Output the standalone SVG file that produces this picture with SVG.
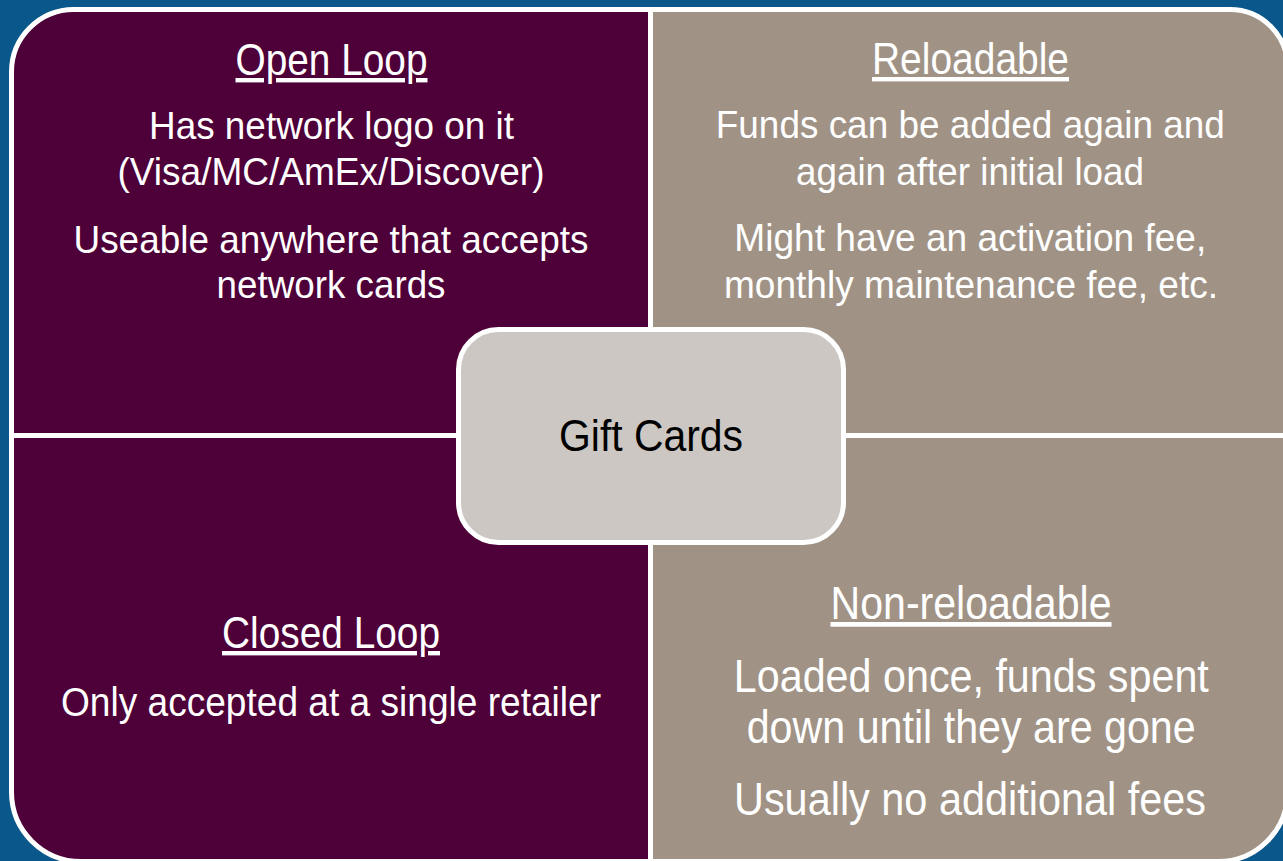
<svg xmlns="http://www.w3.org/2000/svg" width="1283" height="861" viewBox="0 0 1283 861">
  <style>
    .quad { stroke: #ffffff; stroke-width: 5; }
    .purple { fill: #4e0038; }
    .taupe { fill: #a09386; }
    text { font-family: "Liberation Sans Narrow", "Liberation Sans", Arial, sans-serif; text-anchor: middle; fill: #ffffff; }
    .title { font-size: 44px; text-decoration: underline; }
    .body { font-size: 39px; }
    .center-label { font-size: 45px; fill: #000000; }
  </style>
  <rect x="0" y="0" width="1283" height="861" fill="#0a578b"/>

  <g id="open-loop">
    <path class="quad purple" d="M 11.5 435.5 V 72 A 62.5 62.5 0 0 1 74 9.5 H 650.5 V 435.5 Z"/>
    <text class="title" x="331.5" y="75" textLength="192" lengthAdjust="spacingAndGlyphs">Open Loop</text>
    <text class="body" x="331.5" y="139" textLength="365" lengthAdjust="spacingAndGlyphs">Has network logo on it</text>
    <text class="body" x="331" y="185" textLength="427" lengthAdjust="spacingAndGlyphs">(Visa/MC/AmEx/Discover)</text>
    <text class="body" x="331" y="253" textLength="515" lengthAdjust="spacingAndGlyphs">Useable anywhere that accepts</text>
    <text class="body" x="331" y="298" textLength="229" lengthAdjust="spacingAndGlyphs">network cards</text>
  </g>

  <g id="reloadable">
    <path class="quad taupe" d="M 650.5 9.5 H 1230 A 57.5 57.5 0 0 1 1287.5 67 V 435.5 H 650.5 Z"/>
    <text class="title" x="970.5" y="74" textLength="197" lengthAdjust="spacingAndGlyphs">Reloadable</text>
    <text class="body" x="970.3" y="138" textLength="509" lengthAdjust="spacingAndGlyphs">Funds can be added again and</text>
    <text class="body" x="970" y="185" textLength="348" lengthAdjust="spacingAndGlyphs">again after initial load</text>
    <text class="body" x="970.3" y="251" textLength="472" lengthAdjust="spacingAndGlyphs">Might have an activation fee,</text>
    <text class="body" x="971" y="298" textLength="494" lengthAdjust="spacingAndGlyphs">monthly maintenance fee, etc.</text>
  </g>

  <g id="closed-loop">
    <path class="quad purple" d="M 11.5 435.5 H 650.5 V 861.5 H 81 A 69.5 69.5 0 0 1 11.5 792 Z"/>
    <text class="title" x="331" y="648" textLength="218" lengthAdjust="spacingAndGlyphs">Closed Loop</text>
    <text class="body" x="331" y="716" font-size="40" style="font-size:40px" textLength="540" lengthAdjust="spacingAndGlyphs">Only accepted at a single retailer</text>
  </g>

  <g id="non-reloadable">
    <path class="quad taupe" d="M 650.5 435.5 H 1287.5 V 792 A 69.5 69.5 0 0 1 1218 861.5 H 650.5 Z"/>
    <text class="title" x="971" y="619" style="font-size:47px" textLength="281" lengthAdjust="spacingAndGlyphs">Non-reloadable</text>
    <text class="body" x="971.3" y="692" style="font-size:47px" textLength="475" lengthAdjust="spacingAndGlyphs">Loaded once, funds spent</text>
    <text class="body" x="971.2" y="743" style="font-size:47px" textLength="449" lengthAdjust="spacingAndGlyphs">down until they are gone</text>
    <text class="body" x="970" y="815" style="font-size:47px" textLength="472" lengthAdjust="spacingAndGlyphs">Usually no additional fees</text>
  </g>

  <g id="connectors"></g>

  <g id="gift-cards">
    <rect x="458.5" y="329.5" width="385" height="213" rx="40" ry="40" fill="#ccc7c2" stroke="#ffffff" stroke-width="5"/>
    <text class="center-label" x="651" y="451" textLength="184" lengthAdjust="spacingAndGlyphs">Gift Cards</text>
  </g>
</svg>
